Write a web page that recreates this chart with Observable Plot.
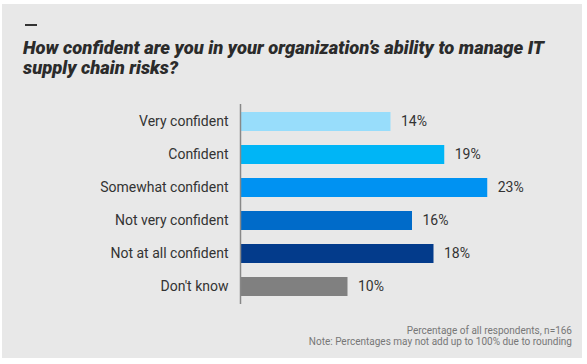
<!DOCTYPE html>
<html>
<head>
<meta charset="utf-8">
<script src="https://cdn.jsdelivr.net/npm/d3@7"></script>
<script src="https://cdn.jsdelivr.net/npm/@observablehq/plot@0.6"></script>
<style>
  html, body { margin: 0; padding: 0; background: #ffffff; }
  #wrap { position: relative; width: 587px; height: 364px; overflow: hidden; font-family: Roboto, "Noto Sans", sans-serif; }
  #panel { position: absolute; left: 2px; top: 4px; width: 580px; height: 354px; background: #e8e8e8; }
  #dash { position: absolute; left: 25px; top: 24px; width: 12px; height: 2px; background: #333; }
  #title { position: absolute; left: 23px; top: 38px; font-size: 18.4px; line-height: 20px; font-weight: 900; font-style: italic; color: #2b2b2b; margin: 0; white-space: nowrap; }
  #chart { position: absolute; left: 0; top: 95px; }
  #caption { position: absolute; right: 15px; top: 325px; text-align: right; font-size: 10px; line-height: 11px; color: #777; white-space: nowrap; }
</style>
</head>
<body>
<div id="wrap">
  <div id="panel"></div>
  <div id="dash"></div>
  <h2 id="title">How confident are you in your organization’s ability to manage IT<br>supply chain risks?</h2>
  <div id="chart"></div>
  <div id="caption">Percentage of all respondents, n=166<br>Note: Percentages may not add up to 100% due to rounding</div>
</div>
<script>
const categories = ["Very confident", "Confident", "Somewhat confident", "Not very confident", "Not at all confident", "Don't know"];
const values = [14, 19, 23, 16, 18, 10];
const colors = ["#98ddfb", "#00b5f6", "#0092f2", "#006bc9", "#033b8b", "#808080"];

const data = categories.map((c, i) => ({category: c, value: values[i], color: colors[i]}));

const chart = Plot.plot({
  width: 587,
  height: 215,
  marginTop: 9,
  marginBottom: 6,
  marginLeft: 240,
  marginRight: 24.5,
  style: {background: "transparent", color: "#333", fontFamily: "Roboto, 'Noto Sans', sans-serif", fontSize: "14px"},
  x: {domain: [0, 30], axis: null},
  y: {domain: categories, paddingInner: 0.435, paddingOuter: 0.19, label: null},
  marks: [
    Plot.barX(data, {x: "value", y: "category", fill: "color"}),
    Plot.ruleX([0], {stroke: "#888", strokeWidth: 1.5}),
    Plot.text(data, {x: "value", y: "category", text: d => d.value + "%", textAnchor: "start", dx: 10, fill: "#333", fontSize: 14}),
    Plot.axisY({tickSize: 0, tickPadding: 12, fontSize: 14, fill: "#333", label: null})
  ]
});
document.getElementById("chart").appendChild(chart);
</script>
</body>
</html>
